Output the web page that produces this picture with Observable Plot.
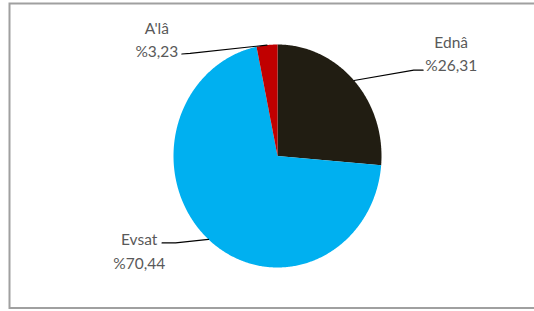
<!DOCTYPE html>
<html>
<head>
<meta charset="utf-8">
<script src="https://cdn.jsdelivr.net/npm/d3@7"></script>
<script src="https://cdn.jsdelivr.net/npm/@observablehq/plot@0.6"></script>
<style>
  html, body { margin: 0; padding: 0; background: #fff; }
  #chart svg { display: block; }
</style>
</head>
<body>
<div id="chart"></div>
<script>
// Data
const categories = ["Ednâ", "Evsat", "A'lâ"];
const values = [26.31, 70.44, 3.23];
const valueLabels = ["%26,31", "%70,44", "%3,23"];
const colors = ["#211d12", "#00b0f0", "#c00000"];

// Label layout (data units of the unit-circle pie)
const labelLayout = [
  {elbow: [1.31, 0.77], end: [1.40, 0.77], text: [1.67, 0.93]},
  {elbow: [-0.98, -0.78], end: [-1.11, -0.78], text: [-1.33, -0.84]},
  {elbow: [-0.84, 0.92], end: [-0.92, 0.915], text: [-1.16, 1.06]}
];

const arcs = d3.pie().sort(null).value(d => d)(values);

const slicePoints = [];
arcs.forEach((a, i) => {
  slicePoints.push({name: categories[i], x: 0, y: 0});
  const n = Math.max(8, Math.ceil((a.endAngle - a.startAngle) / 0.01));
  for (let k = 0; k <= n; k++) {
    const t = a.startAngle + (a.endAngle - a.startAngle) * k / n;
    slicePoints.push({name: categories[i], x: Math.sin(t), y: Math.cos(t)});
  }
  slicePoints.push({name: categories[i], x: 0, y: 0});
});

const leaderPoints = [];
arcs.forEach((a, i) => {
  const m = (a.startAngle + a.endAngle) / 2;
  const L = labelLayout[i];
  leaderPoints.push({name: categories[i], x: Math.sin(m), y: Math.cos(m)});
  leaderPoints.push({name: categories[i], x: L.elbow[0], y: L.elbow[1]});
  leaderPoints.push({name: categories[i], x: L.end[0], y: L.end[1]});
});

const labels = categories.map((c, i) => ({
  x: labelLayout[i].text[0], y: labelLayout[i].text[1],
  text: c + "\n" + valueLabels[i]
}));

const cx = 277, cy = 155.5, rx = 104, ry = 111.5;

const chart = Plot.plot({
  width: 534,
  height: 311,
  margin: 0,
  style: {fontFamily: "Lato, 'Open Sans', sans-serif", background: "#fff"},
  x: {domain: [-1, 1], range: [cx - rx, cx + rx], axis: null},
  y: {domain: [-1, 1], range: [cy + ry, cy - ry], axis: null},
  color: {domain: categories, range: colors},
  marks: [
    Plot.frame({stroke: "#a0a0a0", strokeWidth: 2, insetLeft: 9, insetTop: 3, insetBottom: 3.5, insetRight: -6}),
    Plot.line(slicePoints, {x: "x", y: "y", z: "name", fill: "name", stroke: null, curve: "linear"}),
    Plot.line(leaderPoints, {x: "x", y: "y", z: "name", stroke: "#000", strokeWidth: 1.2}),
    Plot.text(labels, {x: "x", y: "y", text: "text", fontSize: 15.5, lineHeight: 1.5, fill: "#595959", textAnchor: "middle"})
  ]
});
document.getElementById("chart").appendChild(chart);
</script>
</body>
</html>
